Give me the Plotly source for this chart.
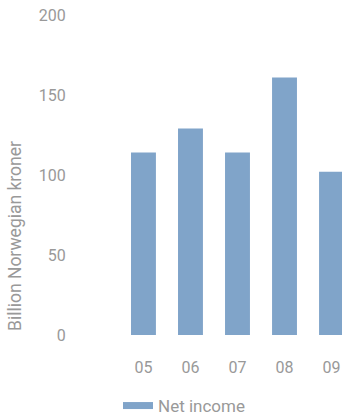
import plotly.graph_objects as go

years = ["05", "06", "07", "08", "09"]
net_income = [114, 129, 114, 161, 102]
y_ticks = [0, 50, 100, 150, 200]

bar_color = "#80a4c9"
text_color = "#999999"
font_family = "Roboto, 'DejaVu Sans', sans-serif"

fig = go.Figure()

fig.add_trace(go.Bar(
    x=years,
    y=net_income,
    marker=dict(color=bar_color, line=dict(width=0)),
    width=0.53,
    name="Net income",
    showlegend=False,
))

# Wide legend swatch drawn via an empty line trace
fig.add_trace(go.Scatter(
    x=[None],
    y=[None],
    mode="lines",
    line=dict(color=bar_color, width=7),
    name="Net income",
    showlegend=True,
))

fig.update_layout(
    width=342,
    height=416,
    margin=dict(l=80, r=0, t=15, b=81, autoexpand=False),
    paper_bgcolor="white",
    plot_bgcolor="white",
    font=dict(family=font_family, size=16, color=text_color),
    legend=dict(
        orientation="h",
        x=(124 - 80 - 6) / 262,
        xanchor="left",
        y=(335 - 406) / 320,
        yanchor="middle",
        font=dict(size=17, color=text_color),
        itemwidth=30,
    ),
    xaxis=dict(
        type="category",
        range=[-1.35, 4.223],
        showgrid=False,
        showline=False,
        zeroline=False,
        ticks="outside",
        ticklen=18,
        tickcolor="rgba(0,0,0,0)",
    ),
    yaxis=dict(
        range=[0, 200],
        tickvals=y_ticks,
        showgrid=False,
        showline=False,
        zeroline=False,
        ticks="outside",
        ticklen=10,
        tickcolor="rgba(0,0,0,0)",
    ),
    annotations=[
        dict(
            text="Billion Norwegian kroner",
            xref="paper", yref="paper",
            x=-77 / 262, y=(335 - 236) / 320,
            xanchor="left", yanchor="middle",
            textangle=-90,
            showarrow=False,
            font=dict(size=17.5, color=text_color),
        )
    ],
)

fig.write_html("out.html")
